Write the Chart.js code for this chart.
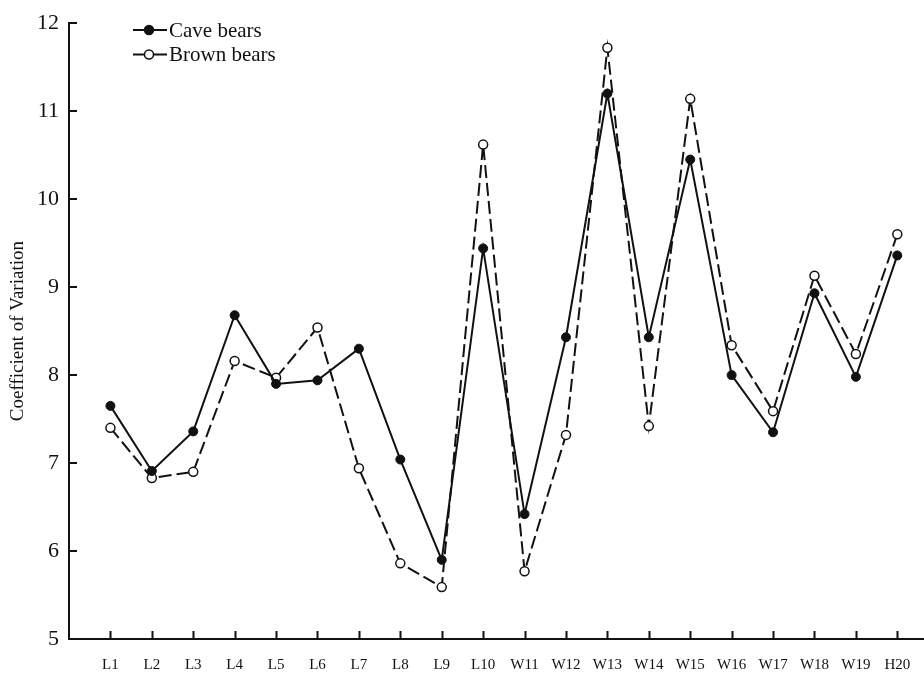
<!DOCTYPE html>
<html>
<head>
    <title>Coefficient of Variation</title>
    <meta charset="UTF-8">
    <style>
        body { margin: 0; padding: 0; background: #fff; }
        .wrap { width: 924px; height: 673px; position: relative; }
    </style>
    <script src="https://cdn.jsdelivr.net/npm/chart.js@4.4.1/dist/chart.umd.min.js"></script>
</head>
<body>
    <div class="wrap">
        <canvas id="cv-chart" width="924" height="673"></canvas>
    </div>

    <script>
        // Data
        const measurements = ['L1', 'L2', 'L3', 'L4', 'L5', 'L6', 'L7', 'L8', 'L9', 'L10',
                              'W11', 'W12', 'W13', 'W14', 'W15', 'W16', 'W17', 'W18', 'W19', 'H20'];
        const caveBears  = [7.65, 6.91, 7.36, 8.68, 7.90, 7.94, 8.30, 7.04, 5.90, 9.44,
                            6.42, 8.43, 11.20, 8.43, 10.45, 8.00, 7.35, 8.93, 7.98, 9.36];
        const brownBears = [7.40, 6.83, 6.90, 8.16, 7.97, 8.54, 6.94, 5.86, 5.59, 10.62,
                            5.77, 7.32, 11.72, 7.42, 11.14, 8.34, 7.59, 9.13, 8.24, 9.60];
        const yTicks = [5, 6, 7, 8, 9, 10, 11, 12];

        const serif = "'Liberation Serif', 'DejaVu Serif', serif";
        const ink = '#111';

        const toPoints = arr => arr.map((v, i) => ({ x: i + 1, y: v }));

        // Inward tick marks, like the original figure
        const innerTicks = {
            id: 'innerTicks',
            afterDraw(chart) {
                const { ctx, scales: { x, y } } = chart;
                ctx.save();
                ctx.strokeStyle = ink;
                ctx.lineWidth = 2;
                ctx.beginPath();
                x.ticks.forEach(t => {
                    const px = Math.round(x.getPixelForValue(t.value)) + 0.5;
                    ctx.moveTo(px, y.bottom);
                    ctx.lineTo(px, y.bottom - 8);
                });
                y.ticks.forEach(t => {
                    const py = Math.round(y.getPixelForValue(t.value));
                    ctx.moveTo(x.left, py);
                    ctx.lineTo(x.left + 8, py);
                });
                // x axis runs on to the right edge of the figure
                ctx.moveTo(x.right - 1, y.bottom);
                ctx.lineTo(chart.width, y.bottom);
                ctx.stroke();
                ctx.restore();
            }
        };

        // Legend with line + marker, top left
        const lineLegend = {
            id: 'lineLegend',
            afterDraw(chart) {
                const ctx = chart.ctx;
                ctx.save();
                chart.data.datasets.forEach((ds, i) => {
                    const ly = 30 + i * 24.5;
                    ctx.strokeStyle = ink;
                    ctx.lineWidth = 2;
                    ctx.setLineDash([]);
                    ctx.beginPath();
                    ctx.moveTo(133, ly);
                    ctx.lineTo(167, ly);
                    ctx.stroke();
                    ctx.beginPath();
                    ctx.arc(149, ly, 4.5, 0, Math.PI * 2);
                    ctx.fillStyle = ds.pointBackgroundColor;
                    ctx.fill();
                    ctx.lineWidth = 1.5;
                    ctx.stroke();
                    ctx.fillStyle = ink;
                    ctx.font = '21px ' + serif;
                    ctx.textBaseline = 'middle';
                    ctx.fillText(ds.label, 169, ly + 1);
                });
                ctx.restore();
            }
        };

        const ctx = document.getElementById('cv-chart').getContext('2d');
        new Chart(ctx, {
            type: 'line',
            data: {
                datasets: [
                    {
                        label: 'Cave bears',
                        data: toPoints(caveBears),
                        borderColor: ink,
                        borderWidth: 2,
                        pointRadius: 4.5,
                        pointBackgroundColor: ink,
                        pointBorderColor: ink,
                        pointBorderWidth: 1,
                        tension: 0
                    },
                    {
                        label: 'Brown bears',
                        data: toPoints(brownBears),
                        borderColor: ink,
                        borderWidth: 2,
                        borderDash: [13, 5],
                        pointRadius: 4.5,
                        pointBackgroundColor: '#fff',
                        pointBorderColor: ink,
                        pointBorderWidth: 1.5,
                        tension: 0
                    }
                ]
            },
            options: {
                responsive: false,
                animation: false,
                layout: { padding: { top: 20, right: 0, left: 0, bottom: 0 } },
                plugins: {
                    legend: { display: false },
                    tooltip: { enabled: false }
                },
                scales: {
                    x: {
                        type: 'linear',
                        min: 0,
                        max: 20.5,
                        afterBuildTicks: scale => {
                            scale.ticks = measurements.map((_, i) => ({ value: i + 1 }));
                        },
                        afterFit: scale => { scale.height = 34; },
                        grid: { display: false, drawTicks: true, tickLength: 17 },
                        border: { display: true, color: ink, width: 2 },
                        ticks: {
                            autoSkip: false,
                            maxRotation: 0,
                            padding: 0,
                            color: ink,
                            font: { family: serif, size: 15 },
                            callback: v => measurements[v - 1]
                        }
                    },
                    y: {
                        min: 5,
                        max: 12,
                        afterBuildTicks: scale => {
                            scale.ticks = yTicks.map(v => ({ value: v }));
                        },
                        afterFit: scale => { scale.width = 69; },
                        grid: { display: false, drawTicks: false },
                        border: { display: true, color: ink, width: 2 },
                        ticks: {
                            padding: 10,
                            color: ink,
                            font: { family: serif, size: 22 }
                        },
                        title: {
                            display: true,
                            text: 'Coefficient of Variation',
                            color: ink,
                            padding: { top: 7, bottom: 0 },
                            font: { family: serif, size: 19 }
                        }
                    }
                }
            },
            plugins: [innerTicks, lineLegend]
        });
    </script>
</body>
</html>
